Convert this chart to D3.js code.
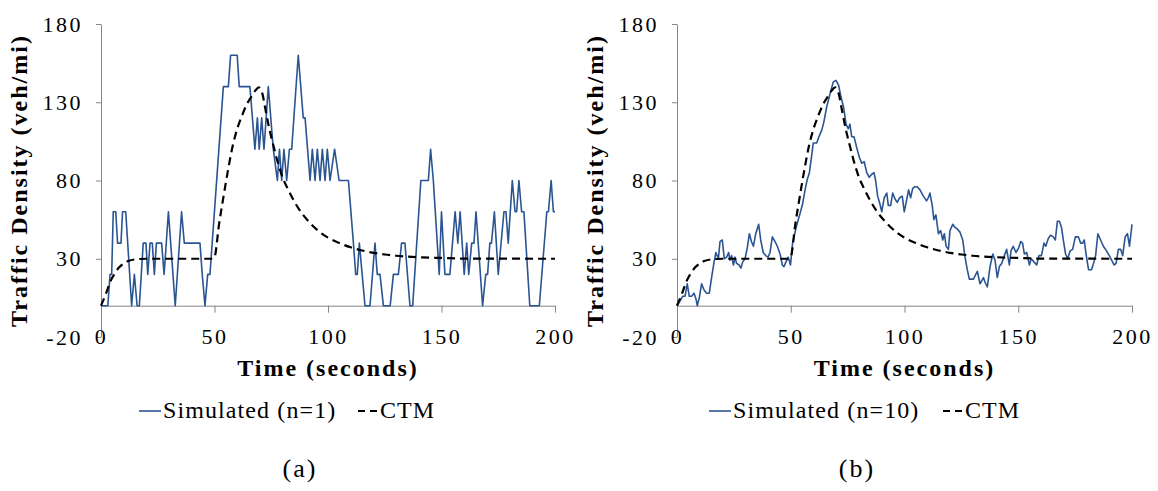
<!DOCTYPE html>
<html>
<head>
<meta charset="utf-8">
<script src="https://cdn.jsdelivr.net/npm/d3@7"></script>
<style>
  body { margin: 0; background: #fff; }
  svg text { font-family: "Liberation Serif", "Times New Roman", serif; fill: #000; }
  .axis path, .axis line { stroke: #868686; stroke-width: 1; }
  .axis text { font-size: 22px; letter-spacing: 2.5px; }
  .axis-title { font-size: 24px; font-weight: bold; letter-spacing: 2px; }
  .legend-text { font-size: 24px; letter-spacing: 1.1px; }
  .caption { font-size: 26px; letter-spacing: 2px; }
</style>
</head>
<body>
<svg id="chart" width="1158" height="491"></svg>
<script>
var yTicks = [-20, 30, 80, 130, 180];
var xTicks = [0, 50, 100, 150, 200];

// (t seconds, density) vertices of the single-run simulation
var simA = [
  [0,0],[3,0],[4,20],[4.7,20],[5.4,60],[6.5,60],[7.3,40],[8.8,40],[9.5,60],[10.9,60],
  [13.5,0],[14.7,20],[15.9,0],[16.9,0],[18.6,40],[19.8,40],[20.6,20],[21.6,40],[22.6,40],
  [23.5,20],[24.4,40],[26.7,40],[27.8,20],[29.7,60],[32.7,0],[35.5,60],[36.7,40],[43.6,40],
  [44.6,20],[45.8,0],[47,20],[48,20],[53.9,140],[56.1,140],[57.1,160],[60,160],[60.9,140],
  [65.6,140],[67.8,100],[68.9,120],[69.7,100],[70.8,120],[71.8,100],[73.7,140],[75.9,100],
  [77.7,80],[78.6,100],[79.6,80],[80.6,100],[81.8,80],[83,100],[84,100],[86.9,160],[89.1,120],
  [89.9,120],[92.1,80],[93.1,100],[94.3,80],[95.3,100],[96.5,80],[97.5,100],[98.7,80],
  [99.7,100],[100.9,80],[102.9,100],[104.9,80],[109,80],[111.2,40],[112.2,20],[112.9,20],
  [113.8,40],[116.3,0],[118.5,0],[120.7,40],[121.7,20],[122.9,20],[124.4,0],[127.4,0],
  [128.8,20],[131,20],[132.4,40],[133.9,40],[136.1,0],[137.3,0],[140.9,80],[144.2,80],
  [145.2,100],[146.4,80],[149,20],[150,60],[151.5,20],[153.7,20],[156,60],[157.2,40],
  [158.2,60],[160,20],[161.1,40],[162,20],[163.3,40],[164.3,40],[165.2,60],[168.1,0],
  [169.5,20],[170.3,20],[171.3,40],[172,40],[173.3,60],[175,20],[177.5,60],[178.4,60],
  [179.4,40],[181.2,80],[182.4,60],[183.1,60],[184.1,80],[185.3,60],[186.3,60],[188.9,0],
  [193.1,0],[196.4,60],[197.1,60],[198.3,80],[199.3,60],[200,60]
];

// average of ten runs
var simB = [
  [0,0],[1.3,3],[2.5,6],[3.5,6],[4.5,14],[5.4,6],[6.4,6],[7.5,8],[8.4,4],[8.9,0],[9.8,5],
  [10.8,14],[11.9,10],[13,8],[14.2,8],[15.2,18],[16.3,28],[17.1,34],[18.2,30],[18.9,41],
  [19.9,42],[20.8,30],[21.8,31],[22.7,34],[23.3,29],[24,32],[24.8,26],[25.5,31],[26.2,27],
  [27.3,26],[28.1,24],[28.9,28],[29.9,30],[30.9,37],[31.8,46],[32.7,41],[33.6,38],[34.6,46],
  [35.9,52],[36.8,42],[37.9,34],[39,32],[40,31],[40.9,34],[41.9,44],[43.1,41],[44.1,38],
  [45.3,33],[46.3,26],[47,25],[47.9,28],[48.9,31],[49.9,26],[50.8,40],[51.9,47],[52.9,53],
  [54.1,59],[55.2,65],[56.3,74],[57.3,81],[58.2,85],[59.2,96],[59.9,104],[61.4,104],
  [62.4,108],[63.6,112],[64.5,117],[65.8,127],[67.2,135],[68.7,143],[69.9,144],[71,141],
  [72,134],[73.2,127],[74.3,116],[75.3,113],[76,116],[76.8,108],[77.8,108],[79,101],
  [80.1,95],[81.2,91],[82.3,92],[83.4,85],[84.5,82],[85.6,84],[86.6,85],[87.3,80],[88.2,70],
  [89.2,65],[90,60],[91.1,69],[92.2,72],[92.9,64],[93.9,64],[94.8,72],[95.9,68],[96.8,66],
  [97.9,69],[99,70],[99.9,60],[101,68],[101.8,74],[102.7,69],[103.6,75],[104.6,76],
  [105.6,76],[106.8,74],[108.3,70],[109.7,67],[110.5,69],[111.2,72],[112.2,64],[112.9,55],
  [113.8,58],[114.9,46],[115.9,48],[116.8,42],[117.5,46],[118.3,38],[119.3,36],[120,48],
  [121.2,52],[122.2,50],[123.2,49],[124.4,47],[125.6,42],[126.6,31],[127.6,23],[128.5,17],
  [129.5,17],[130.3,17],[132,22],[133.2,14],[134.7,18],[135.4,15],[136.4,12],[137.6,25],
  [138.8,33],[139.8,29],[140.8,18],[141.7,25],[142.7,27],[143.9,32],[144.9,36],[146.1,26],
  [146.8,35],[147.8,38],[149,34],[150.2,37],[151.1,41],[151.9,40],[152.7,33],[153.7,34],
  [154.9,26],[155.7,30],[156.9,28],[158.1,26],[159.1,32],[160.2,32],[161.3,40],[162.1,38],
  [163.2,43],[164.2,45],[165.4,44],[166.3,42],[167.2,54],[168.1,54],[169,50],[169.8,42],
  [170.8,33],[171.7,30],[172.8,35],[173.9,36],[175.1,44],[176.4,44],[177.4,40],[178.3,40],
  [179,42],[179.8,33],[180.9,23],[182.2,23],[183.3,28],[184,32],[185,46],[186.2,42],
  [187.4,38],[188.8,35],[190,32],[191.1,29],[192.1,26],[193,27],[194,36],[195,36],
  [195.9,32],[197,44],[198,46],[198.9,38],[200,52]
];

// cell transmission model prediction (same in both panels)
var ctm = [
  [0,0],[2,7],[4,15],[6,20.5],[8,24.5],[10,27],[12,28.5],[15,29.6],[20,30],[49,30],[50,31],
  [52,52],[54,70],[56,87],[58,102],[60,113],[62,121],[64,128],[66,133],[68,137.5],
  [69.5,139.5],[71,136],[72.5,125],[74,114],[76,102],[78,91],[80,82],[82,75.5],[85,67],
  [88,60],[92,53],[96,47.5],[100,43.5],[105,40],[110,37.3],[115,35.3],[120,33.8],
  [125,32.7],[130,31.9],[140,31],[150,30.5],[160,30.1],[200,30]
];

var panels = [
  { left: 101, right: 555, sim: simA, name: 'Simulated (n=1)', caption: '(a)',
    legendX: 139, ctmX: 358, captionX: 300 },
  { left: 677, right: 1132, sim: simB, name: 'Simulated (n=10)', caption: '(b)',
    legendX: 709, ctmX: 943, captionX: 857 }
];

var svg = d3.select('#chart');
svg.append('rect').attr('width', 1158).attr('height', 491).attr('fill', '#fff');

var plotTop = 24, plotBottom = 337;
// plain hyphen for negatives, like the original
var plainNum = function (d) { return String(d); };

panels.forEach(function (p) {
  var x = d3.scaleLinear().domain([0, 200]).range([p.left, p.right]),
    y = d3.scaleLinear().domain([-20, 180]).range([plotBottom, plotTop]);

  var g = svg.append('g');

  // y axis
  g.append('g')
    .attr('class', 'axis')
    .attr('transform', 'translate(' + p.left + ',0)')
    .call(d3.axisLeft(y).tickValues(yTicks).tickFormat(plainNum)
      .tickSize(5).tickSizeOuter(0).tickPadding(13));

  // x axis crosses at zero, labels sit at the bottom
  g.append('g')
    .attr('class', 'axis')
    .attr('transform', 'translate(0,' + y(0) + ')')
    .call(d3.axisBottom(x).tickValues(xTicks).tickFormat(plainNum)
      .tickSize(7).tickSizeOuter(0).tickPadding(16));

  var line = d3.line()
    .x(function (d) { return x(d[0]); })
    .y(function (d) { return y(d[1]); });

  g.append('path')
    .datum(p.sim)
    .attr('fill', 'none')
    .attr('stroke', '#2b5592')
    .attr('stroke-width', 1.6)
    .attr('stroke-linejoin', 'round')
    .attr('d', line);

  g.append('path')
    .datum(ctm)
    .attr('fill', 'none')
    .attr('stroke', '#000')
    .attr('stroke-width', 2.2)
    .attr('stroke-dasharray', '8,5')
    .attr('d', line.curve(d3.curveMonotoneX));

  // titles
  var cx = (p.left + p.right) / 2;
  g.append('text')
    .attr('class', 'axis-title')
    .attr('text-anchor', 'middle')
    .attr('x', cx)
    .attr('y', 376)
    .text('Time (seconds)');

  g.append('text')
    .attr('class', 'axis-title')
    .attr('text-anchor', 'middle')
    .attr('transform', 'translate(' + (p.left - 74) + ',' + ((plotTop + plotBottom) / 2) + ') rotate(-90)')
    .text('Traffic Density (veh/mi)');

  // legend
  var ly = 411;
  g.append('line')
    .attr('x1', p.legendX).attr('x2', p.legendX + 22)
    .attr('y1', ly).attr('y2', ly)
    .attr('stroke', '#2b5592').attr('stroke-width', 1.6);
  g.append('text')
    .attr('class', 'legend-text')
    .attr('x', p.legendX + 24)
    .attr('y', ly + 7)
    .text(p.name);
  g.append('line')
    .attr('x1', p.ctmX).attr('x2', p.ctmX + 20)
    .attr('y1', ly).attr('y2', ly)
    .attr('stroke', '#000').attr('stroke-width', 2)
    .attr('stroke-dasharray', '7,5');
  g.append('text')
    .attr('class', 'legend-text')
    .attr('x', p.ctmX + 22)
    .attr('y', ly + 7)
    .text('CTM');

  g.append('text')
    .attr('class', 'caption')
    .attr('text-anchor', 'middle')
    .attr('x', p.captionX)
    .attr('y', 477)
    .text(p.caption);
});
</script>
</body>
</html>
